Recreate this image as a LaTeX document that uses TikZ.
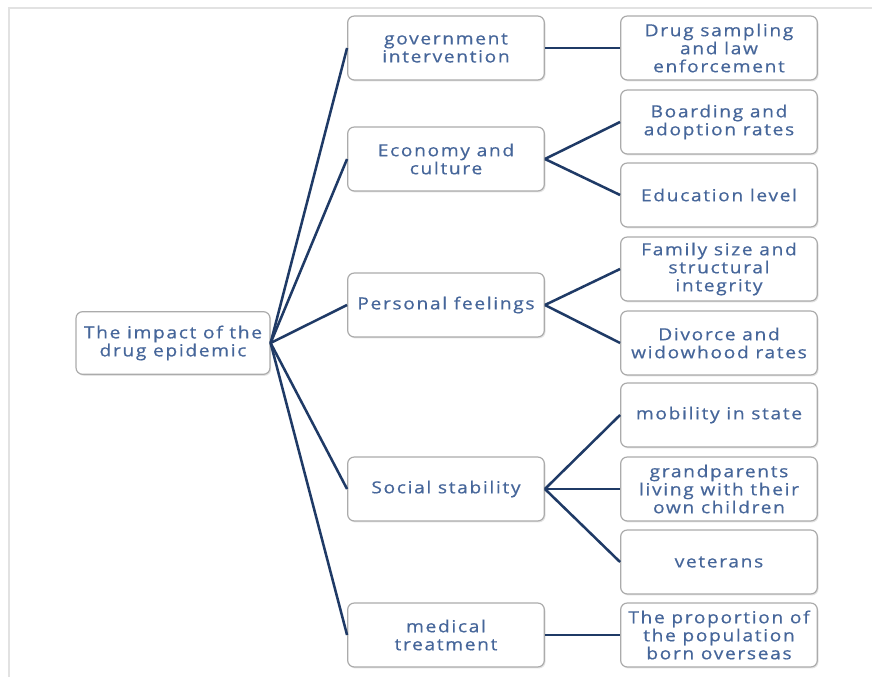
\documentclass[tikz,border=0pt]{standalone}
\usepackage{fontspec}
\setmainfont{Open Sans}[LetterSpace=10, FakeStretch=1.15, FakeBold=0.6]
\usetikzlibrary{shadows}
\definecolor{linkblue}{HTML}{1F3A66}
\definecolor{textblue}{HTML}{46669A}
\definecolor{boxgray}{HTML}{ABABAB}
\definecolor{framegray}{HTML}{E2E2E2}
\tikzset{
  card/.style={draw=boxgray, line width=0.9pt, rounded corners=5pt, fill=white,
    text=textblue, align=center, inner sep=1pt,
    font=\fontsize{12.5}{13.5}\selectfont,
    drop shadow={opacity=0.22, shadow xshift=0.9pt, shadow yshift=-1.1pt}},
  topic/.style={card, minimum width=147.5pt, minimum height=48pt},
  leaf/.style={card, minimum width=147.5pt, minimum height=48pt},
  link/.style={draw=linkblue, line width=1.9pt}
}
\begin{document}
\begin{tikzpicture}[x=0.75pt, y=-0.75pt]
        \useasboundingbox (0,0) rectangle (872,677);
        % frame
        \draw[framegray, line width=1.5pt] (9,677) -- (9,8) -- (872,8);

        % root
        \node[card, minimum width=145.5pt, minimum height=47pt] (root) at (173,343)
            {The impact of the\\drug epidemic};

        % topics
        \node[topic] (gov)  at (446,48)  {government\\intervention};
        \node[topic] (econ) at (446,159) {Economy and\\culture};
        \node[topic] (pers) at (446,305) {Personal feelings};
        \node[topic] (soc)  at (446,489) {Social stability};
        \node[topic] (med)  at (446,635) {medical\\treatment};

        % leaves
        \node[leaf] (sampling) at (719,48)  {Drug sampling\\and law\\enforcement};
        \node[leaf] (boarding) at (719,122) {Boarding and\\adoption rates};
        \node[leaf] (edu)      at (719,195) {Education level};
        \node[leaf] (family)   at (719,269) {Family size and\\structural\\integrity};
        \node[leaf] (divorce)  at (719,343) {Divorce and\\widowhood rates};
        \node[leaf] (mobility) at (719,415) {mobility in state};
        \node[leaf] (grand)    at (719,489) {grandparents\\living with their\\own children};
        \node[leaf] (vet)      at (719,562) {veterans};
        \node[leaf] (born)     at (719,635) {The proportion of\\the population\\born overseas};

        % links
        \foreach \t in {gov,econ,pers,soc,med}
            \draw[link] (root.east) -- (\t.west);
        \foreach \t/\l in {gov/sampling, econ/boarding, econ/edu, pers/family,
            pers/divorce, soc/mobility, soc/grand, soc/vet, med/born}
            \draw[link] (\t.east) -- (\l.west);
    \end{tikzpicture}
\end{document}
